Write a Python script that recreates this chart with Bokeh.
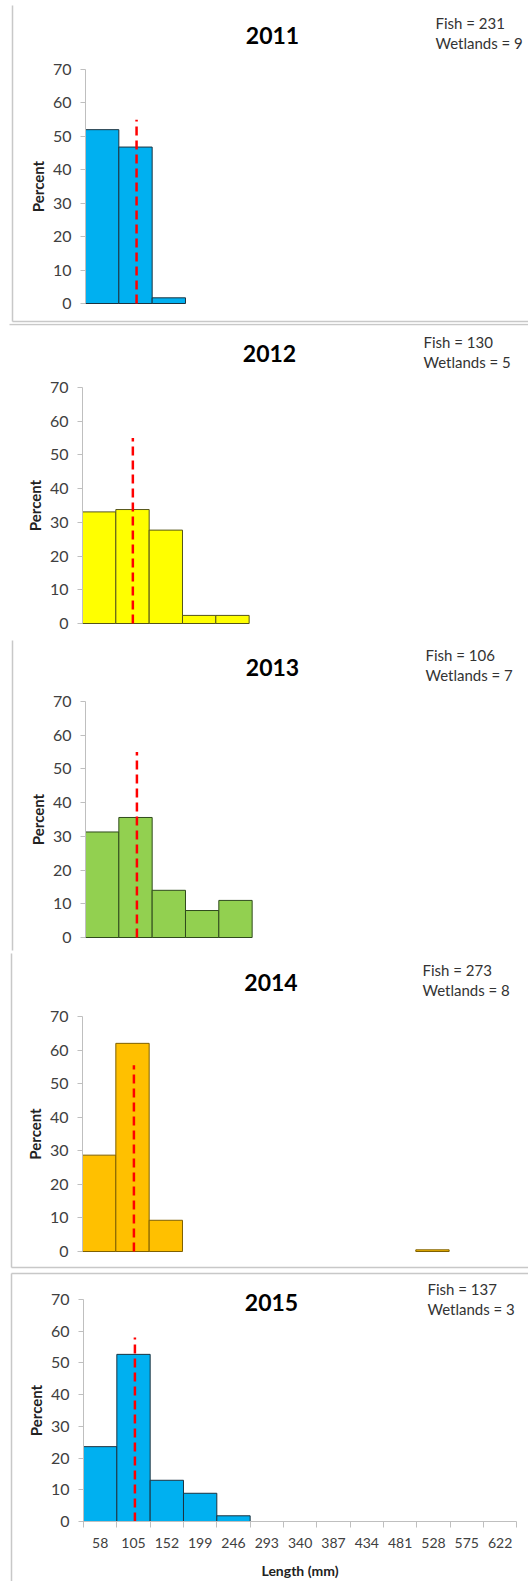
from bokeh.plotting import figure
from bokeh.layouts import column
from bokeh.models import Range1d, FixedTicker
from bokeh.core.properties import value
from bokeh.embed import file_html
from bokeh.resources import INLINE

# ---------------- data ----------------
years = ["2011", "2012", "2013", "2014", "2015"]
fish = [231, 130, 106, 273, 137]
wetlands = [9, 5, 7, 8, 3]
bin_centers = [58, 105, 152, 199, 246, 293, 340, 387, 434, 481, 528, 575, 622]
bin_width = 47
pct_2011 = [52.0, 46.8, 1.7, 0, 0, 0, 0, 0, 0, 0, 0, 0, 0]
pct_2012 = [33.1, 33.8, 27.7, 2.4, 2.4, 0, 0, 0, 0, 0, 0, 0, 0]
pct_2013 = [31.3, 35.6, 14.0, 8.0, 11.0, 0, 0, 0, 0, 0, 0, 0, 0]
pct_2014 = [28.7, 62.0, 9.3, 0, 0, 0, 0, 0, 0, 0, 0.5, 0, 0]
pct_2015 = [23.6, 52.7, 13.0, 8.9, 1.8, 0, 0, 0, 0, 0, 0, 0, 0]
mean_length = [106.5, 105.5, 107, 107, 107]
mean_line_top = [55, 55, 55, 55.5, 58]
y_ticks = [0, 10, 20, 30, 40, 50, 60, 70]

series = [pct_2011, pct_2012, pct_2013, pct_2014, pct_2015]
fill_colors = ["#00B0F0", "#FFFF00", "#92D050", "#FFC000", "#00B0F0"]
edge_colors = ["#1c3340", "#55551a", "#2f4a1c", "#7F6000", "#1c3340"]

# ---------------- layout constants (page pixels) ----------------
FIG_W = 528
PAGE_X0 = 0
fig_tops = [0, 323, 636, 951, 1270]
fig_bottoms = [323, 636, 951, 1270, 1581]
y70_px = [69, 387, 701, 1016, 1299]
y0_px = [303, 623, 937, 1251, 1521]
axis_left_px = [85, 82, 85, 82, 83]
BIN_PX = 33.33
title_cx = [272, 269, 272, 270.5, 271]
title_cy = [35, 353, 667, 982, 1302]
note_x = [435, 423, 425, 422, 427]
note_cy = [22, 341, 654, 969, 1288]
NOTE_GAP = 20
BORDER = "#c8c8c8"
decorations = [
    [(12, 5, 12, 321), (12, 321, 528, 321)],
    [(9, 324, 528, 324)],
    [(12, 640, 12, 950)],
    [(11, 953, 11, 1267), (11, 1267, 528, 1267)],
    [(11, 1273, 528, 1273), (11, 1273, 11, 1581)],
]

x_lo = bin_centers[0] - bin_width / 2
x_hi = bin_centers[-1] + bin_width / 2
edges = [c - bin_width / 2 for c in bin_centers] + [x_hi]

figs = []
for i in range(5):
    top, bot = fig_tops[i], fig_bottoms[i]
    h = bot - top
    pxu = (y0_px[i] - y70_px[i]) / 70.0
    y_start = 0 - (bot - y0_px[i]) / pxu
    y_end = 70 + (y70_px[i] - top) / pxu
    s = BIN_PX / bin_width
    x_start = x_lo - (axis_left_px[i] - PAGE_X0) / s
    x_end = x_start + FIG_W / s

    def px2x(px, x_start=x_start, s=s):
        return x_start + (px - PAGE_X0) / s

    def py2y(py, y_start=y_start, pxu=pxu, bot=bot):
        return y_start + (bot - py) / pxu

    last = i == 4
    p = figure(width=FIG_W, height=h, x_range=Range1d(x_start, x_end),
               y_range=Range1d(y_start, y_end), output_backend="svg",
               toolbar_location=None, min_border=0, min_border_left=0,
               min_border_right=0, min_border_top=0, min_border_bottom=0,
               x_axis_location="below" if last else None,
               background_fill_color="white", border_fill_color="white",
               outline_line_color=None)
    p.xgrid.visible = False
    p.ygrid.visible = False

    # decorative panel borders
    d = decorations[i]
    p.segment(x0=[px2x(a[0]) for a in d], y0=[py2y(a[1]) for a in d],
              x1=[px2x(a[2]) for a in d], y1=[py2y(a[3]) for a in d],
              line_color=BORDER, line_width=1.5)

    # bars
    vals = series[i]
    idx = [k for k, v in enumerate(vals) if v > 0]
    p.quad(left=[bin_centers[k] - bin_width / 2 for k in idx],
           right=[bin_centers[k] + bin_width / 2 for k in idx],
           bottom=[0] * len(idx), top=[vals[k] for k in idx],
           fill_color=fill_colors[i], line_color=edge_colors[i], line_width=1)

    # mean length line
    p.segment(x0=[mean_length[i]], y0=[0], x1=[mean_length[i]], y1=[mean_line_top[i]],
              line_color="#FF0000", line_width=2.5, line_dash="9 5")

    # title and note
    p.text(x=[px2x(title_cx[i])], y=[py2y(title_cy[i])], text=[years[i]],
           text_font=value("Lato"), text_font_style="bold", text_font_size="23px",
           text_align="center", text_baseline="middle", text_color="black")
    p.text(x=[px2x(note_x[i]), px2x(note_x[i])],
           y=[py2y(note_cy[i]), py2y(note_cy[i] + NOTE_GAP)],
           text=[f"Fish = {fish[i]}", f"Wetlands = {wetlands[i]}"],
           text_font=value("Lato"), text_font_size="15px",
           text_align="left", text_baseline="middle", text_color="#333333")

    # y axis
    ya = p.yaxis[0]
    ya.fixed_location = x_lo
    ya.bounds = (0, 70)
    ya.ticker = FixedTicker(ticks=y_ticks)
    ya.axis_line_color = "#BFBFBF"
    ya.major_tick_line_color = "#BFBFBF"
    ya.major_tick_out = 5
    ya.major_tick_in = 0
    ya.minor_tick_line_color = None
    ya.major_label_standoff = 9
    ya.major_label_text_font = "Lato"
    ya.major_label_text_font_size = "16px"
    ya.major_label_text_color = "#404040"
    ya.axis_label = "Percent"
    ya.axis_label_text_font = "Lato"
    ya.axis_label_text_font_style = "bold"
    ya.axis_label_text_font_size = "15px"
    ya.axis_label_text_color = "#222222"
    ya.axis_label_standoff = 3

    if last:
        xa = p.xaxis[0]
        xa.fixed_location = 0
        xa.bounds = (x_lo, x_hi)
        xa.ticker = FixedTicker(ticks=bin_centers, minor_ticks=edges)
        xa.axis_line_color = "#BFBFBF"
        xa.major_tick_out = 0
        xa.major_tick_in = 0
        xa.major_tick_line_color = None
        xa.minor_tick_out = 6
        xa.minor_tick_in = 0
        xa.minor_tick_line_color = "#BFBFBF"
        xa.major_label_standoff = 10
        xa.major_label_text_font = "Lato"
        xa.major_label_text_font_size = "14px"
        xa.major_label_text_color = "#404040"
        xa.axis_label = "Length (mm)"
        xa.axis_label_text_font = "Lato"
        xa.axis_label_text_font_style = "bold"
        xa.axis_label_text_font_size = "14px"
        xa.axis_label_text_color = "#222222"
        xa.axis_label_standoff = 11

    figs.append(p)

layout = column(*figs, spacing=0)
open("out.html", "w").write(file_html(layout, INLINE))
